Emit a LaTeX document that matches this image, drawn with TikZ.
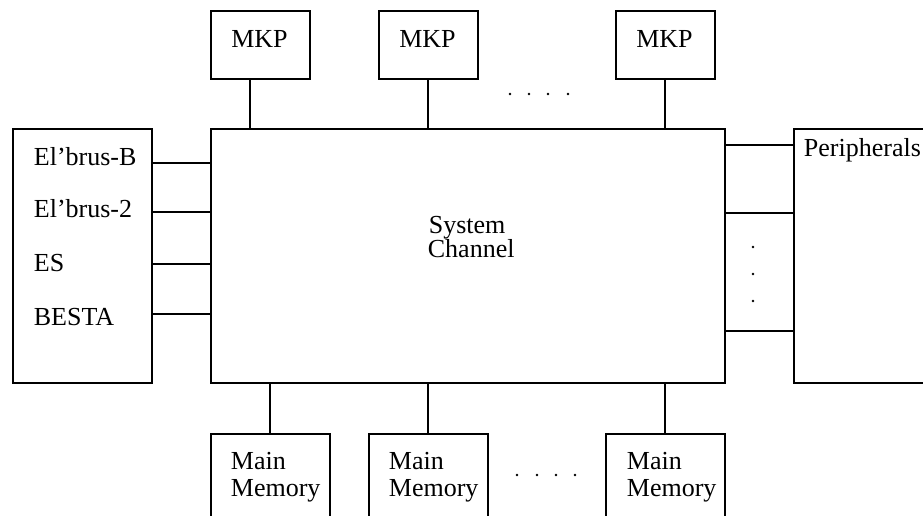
\documentclass[tikz,border=0pt]{standalone}
\usepackage{fontspec}
\setmainfont{Liberation Serif}
\begin{document}
\begin{tikzpicture}[x=1pt,y=-1pt,line width=1.8pt,
  box/.style={draw,line width=1.8pt,inner sep=0pt,anchor=north west},
  lbl/.style={inner sep=0pt,anchor=base west,font=\fontsize{26}{27}\selectfont},
  clbl/.style={inner sep=0pt,anchor=base,font=\fontsize{26}{27}\selectfont},
  dotm/.style={fill,circle,inner sep=0pt,minimum size=2.8pt}]
\clip (0,0) rectangle (923,515);
\fill[white] (0,0) rectangle (923,515);
% main channel
\node[box,minimum width=514pt,minimum height=254pt] (chan) at (210,128) {};
\node[lbl] (sys) at (428,233) {System};
\node[lbl] (chn) at (427,257) {Channel};
% MKP boxes
\node[box,minimum width=99pt,minimum height=68pt] (mkp1) at (210,10) {};
\node[box,minimum width=99pt,minimum height=68pt] (mkp2) at (378,10) {};
\node[box,minimum width=99pt,minimum height=68pt] (mkp3) at (615,10) {};
\node[clbl] (t1) at (259.5,47) {MKP};
\node[clbl] (t2) at (427.5,47) {MKP};
\node[clbl] (t3) at (664.5,47) {MKP};
\coordinate (m1) at (250,78);
\coordinate (m2) at (428,78);
\coordinate (m3) at (665,78);
\draw (m1) -- (m1 |- chan.north);
\draw (m2) -- (m2 |- chan.north);
\draw (m3) -- (m3 |- chan.north);
\foreach \x [count=\i] in {510,529,548,568} \node[dotm] (td\i) at (\x,94) {};
% left box
\node[box,minimum width=139pt,minimum height=254pt] (left) at (12,128) {};
\node[lbl] (e1) at (33,165) {El’brus-B};
\node[lbl] (e2) at (33,217) {El’brus-2};
\node[lbl] (e3) at (33,271) {ES};
\node[lbl] (e4) at (33,325) {BESTA};
\foreach \y [count=\i] in {163,212,264,314} {
  \coordinate (la\i) at (153,\y);
  \draw (la\i) -- (la\i -| chan.west);
}
% right box
\node[box,minimum width=150pt,minimum height=254pt] (right) at (793,128) {};
\node[lbl] (per) at (803,156) {Peripherals};
\foreach \y [count=\i] in {145,213,331} {
  \coordinate (ra\i) at (724,\y);
  \draw (ra\i) -- (ra\i -| right.west);
}
\foreach \y [count=\i] in {247,274,301} \node[dotm] (vd\i) at (753,\y) {};
% main memory
\node[box,minimum width=119pt,minimum height=100pt] (mm1) at (210,433) {};
\node[box,minimum width=119pt,minimum height=100pt] (mm2) at (368,433) {};
\node[box,minimum width=119pt,minimum height=100pt] (mm3) at (605,433) {};
\foreach \n/\x in {1/230,2/388,3/626} {
  \node[lbl] (ma\n) at (\x,469) {Main};
  \node[lbl] (mb\n) at (\x,496) {Memory};
}
\coordinate (b1) at (270,433);
\coordinate (b2) at (428,433);
\coordinate (b3) at (665,433);
\draw (b1) -- (b1 |- chan.south);
\draw (b2) -- (b2 |- chan.south);
\draw (b3) -- (b3 |- chan.south);
\foreach \x [count=\i] in {517,537,556,575} \node[dotm] (bd\i) at (\x,475) {};
\end{tikzpicture}
\end{document}
